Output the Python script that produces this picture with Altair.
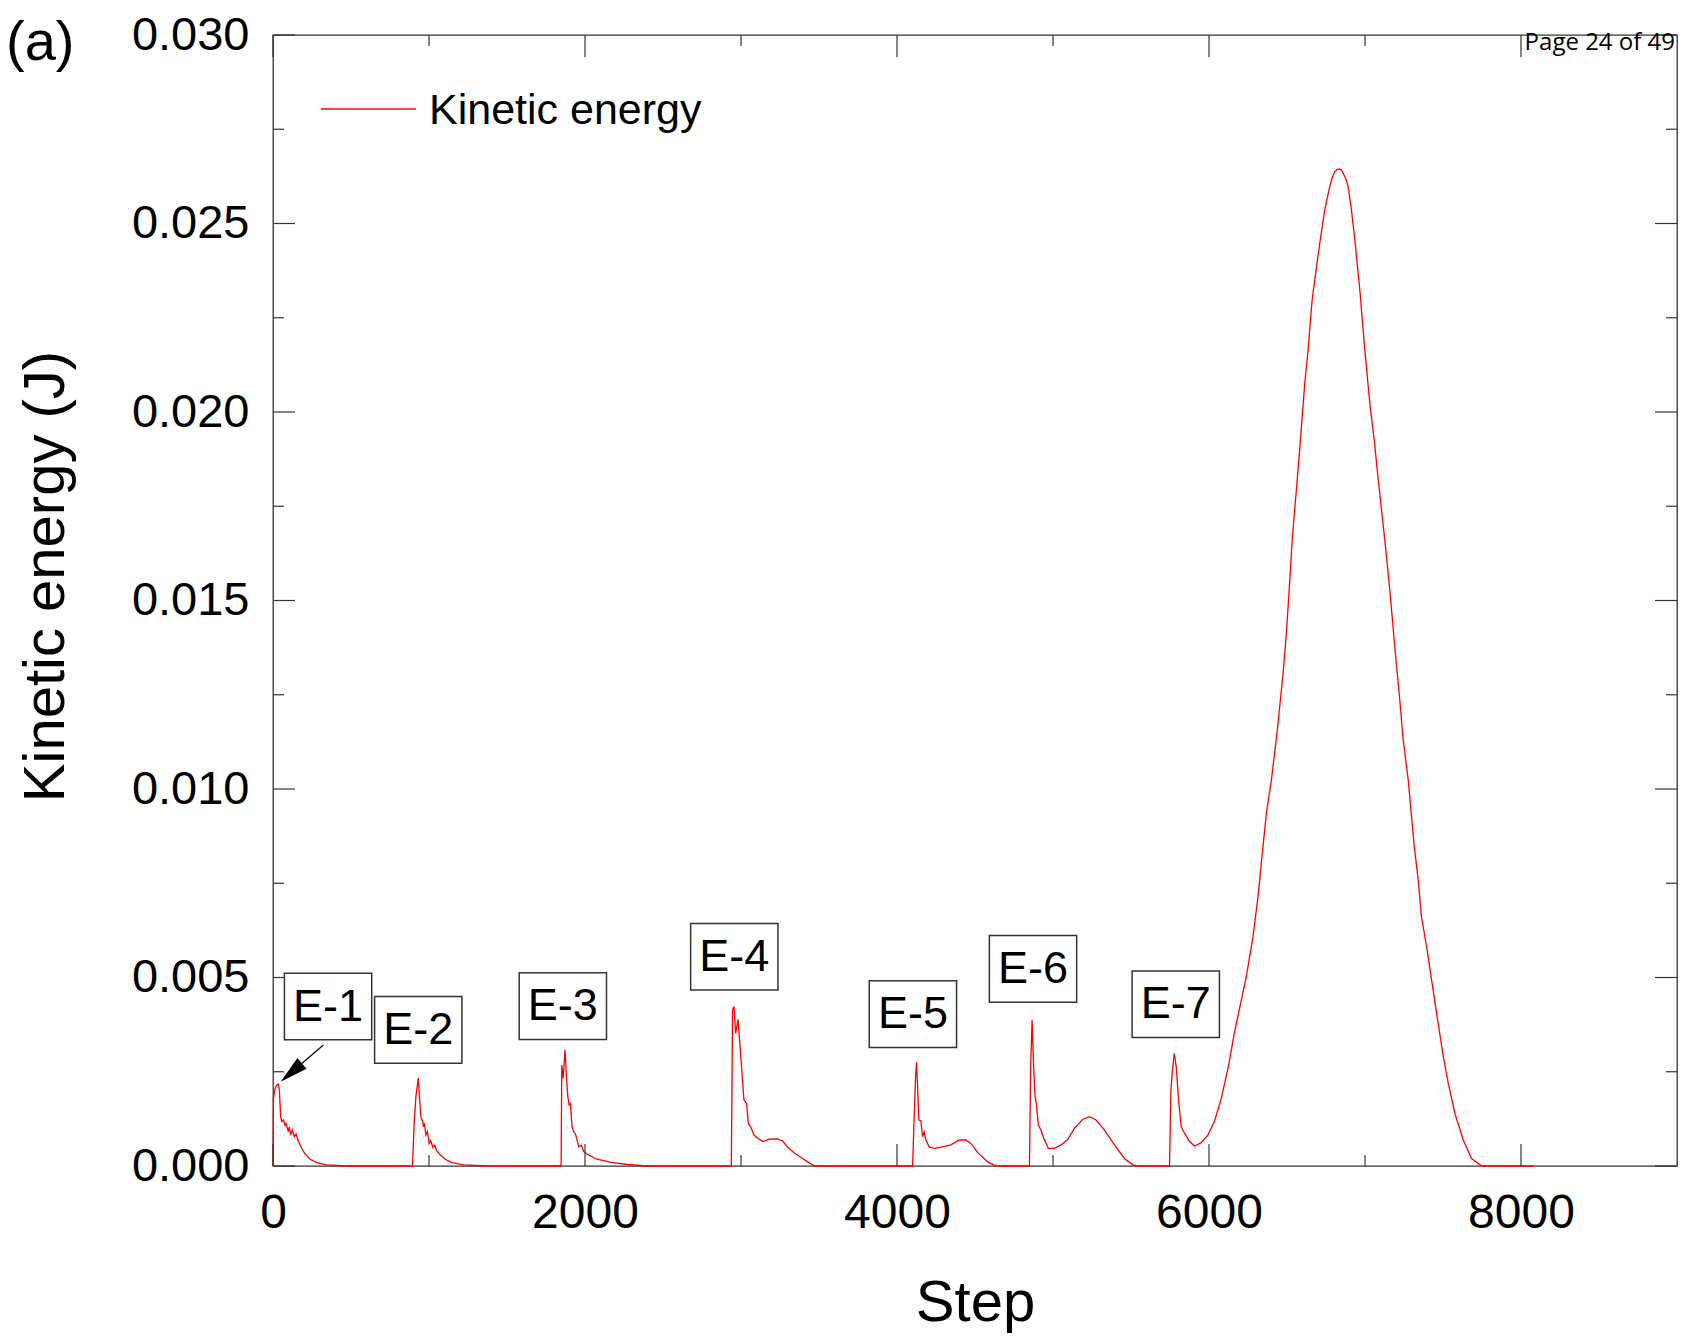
import altair as alt
import pandas as pd

# ---------------- data ----------------
e1_step = [0, 3, 13, 24, 34, 41, 49, 56, 66, 77, 83, 98, 105, 113, 124, 137, 148, 163, 184, 205, 238, 280, 344, 473]
e1_ke = [0.0, 0.0018, 0.00205, 0.00215, 0.00217, 0.0020, 0.00131, 0.00118, 0.00122, 0.00109, 0.00113, 0.00091,
         0.00104, 0.00082, 0.00096, 0.00078, 0.00085, 0.00065, 0.00047, 0.00032, 0.00018, 0.00009, 0.00003, 0.0]

e2_step = [894, 905, 916, 931, 939, 948, 959, 965, 971, 980, 990, 1001, 1011, 1025, 1037, 1050, 1072, 1104, 1147, 1222, 1372]
e2_ke = [0.0, 0.00113, 0.00184, 0.00233, 0.00184, 0.00131, 0.00118, 0.00104, 0.00113, 0.00082, 0.00091, 0.00060,
         0.00067, 0.00049, 0.00055, 0.00040, 0.00029, 0.00018, 0.00009, 0.00003, 0.0]

e3_step = [1847, 1851, 1860, 1872, 1881, 1890, 1898, 1907, 1917, 1928, 1939, 1960, 1977, 1992, 2024, 2078, 2163, 2270, 2398]
e3_ke = [0.0, 0.00268, 0.00233, 0.00308, 0.00237, 0.00184, 0.00162, 0.00166, 0.00104, 0.00091, 0.00085, 0.00051,
         0.00055, 0.00038, 0.00029, 0.00018, 0.00010, 0.00004, 0.0]

e4_step = [2938, 2946, 2955, 2966, 2981, 2991, 3002, 3019, 3036, 3047, 3062, 3083, 3109, 3143, 3180, 3233, 3265,
           3297, 3340, 3383, 3426, 3468, 3511]
e4_ke = [0.0, 0.00414, 0.00423, 0.00352, 0.00389, 0.00334, 0.00272, 0.00175, 0.00166, 0.00113, 0.00104, 0.00082,
         0.00073, 0.00065, 0.00071, 0.00072, 0.00067, 0.00051, 0.00035, 0.00023, 0.00011, 0.00001, 0.0]

e5_step = [4100, 4110, 4119, 4125, 4132, 4140, 4153, 4164, 4174, 4185, 4207, 4239, 4292, 4346, 4399, 4442, 4474,
           4517, 4581, 4635]
e5_ke = [0.0, 0.00131, 0.00237, 0.00275, 0.0021, 0.00122, 0.0012, 0.00078, 0.00091, 0.00069, 0.00050, 0.00047,
         0.00051, 0.00056, 0.00069, 0.00069, 0.00060, 0.00036, 0.00011, 0.0]

e6_step = [4849, 4857, 4866, 4874, 4885, 4893, 4906, 4923, 4945, 4970, 5009, 5052, 5095, 5137, 5191, 5234, 5276,
           5330, 5394, 5458, 5512, 5544]
e6_ke = [0.0, 0.00263, 0.00387, 0.00281, 0.00184, 0.00166, 0.00109, 0.00095, 0.00069, 0.00047, 0.00047, 0.00056,
         0.00071, 0.00100, 0.00124, 0.00131, 0.00122, 0.00095, 0.00056, 0.00020, 0.00003, 0.0]

e7_step = [5747, 5756, 5764, 5777, 5790, 5805, 5822, 5843, 5876, 5908, 5950, 5993, 6036, 6079, 6122, 6164,
           6239, 6282, 6314, 6346, 6368, 6400, 6438, 6475, 6496, 6518, 6533, 6560, 6586, 6614, 6635, 6661,
           6689, 6716, 6742, 6774, 6790, 6806, 6820, 6834, 6848, 6860, 6876, 6892, 6913, 6935, 6967, 6999,
           7031, 7059, 7085, 7127, 7159, 7191, 7223, 7245, 7277, 7316, 7341, 7362, 7395, 7427, 7459, 7502,
           7534, 7576, 7630, 7683, 7748, 8080]
e7_ke = [0.0, 0.00202, 0.00246, 0.00299, 0.00263, 0.00175, 0.00104, 0.00087, 0.00065, 0.00053, 0.00062, 0.00082,
         0.00120, 0.00180, 0.00259, 0.00356,
         0.00502, 0.00608, 0.00714, 0.00847, 0.00936, 0.01024, 0.01156, 0.01307, 0.01413, 0.01554, 0.0166,
         0.01793, 0.01926, 0.02076, 0.02164, 0.02297, 0.02385, 0.02465, 0.02536, 0.02598, 0.02622, 0.02637,
         0.02643, 0.02645, 0.02642, 0.02633, 0.02620, 0.02598, 0.02536, 0.02456, 0.02323, 0.02164, 0.02023,
         0.01926, 0.0182, 0.0166, 0.01528, 0.01377, 0.01236, 0.0113, 0.01024, 0.00847, 0.00759, 0.00661,
         0.00582, 0.00493, 0.00405, 0.0029, 0.00219, 0.0014, 0.00069, 0.0002, 0.0, 0.0]

x_major = [0, 2000, 4000, 6000, 8000]
x_minor = [1000, 3000, 5000, 7000]
y_major = [0.0, 0.005, 0.010, 0.015, 0.020, 0.025, 0.030]
y_minor = [0.0025, 0.0075, 0.0125, 0.0175, 0.0225, 0.0275]

event_labels = ["E-1", "E-2", "E-3", "E-4", "E-5", "E-6", "E-7"]
event_label_step = [353, 931, 1858, 2957, 4102, 4872, 5787]
event_label_ke = [0.00423, 0.00361, 0.00424, 0.00555, 0.00403, 0.00523, 0.00429]

arrow_tail = [323, 0.00321]
arrow_head = [117.5, 0.00248]

legend_label = ["Kinetic energy"]
panel_label = ["(a)"]
page_label = ["Page 24 of 49"]

# ---------------- chart ----------------
W, H = 1404, 1131
FONT = "Liberation Sans"
FRAME = "#333333"

step = e1_step + e2_step + e3_step + e4_step + e5_step + e6_step + e7_step
ke = e1_ke + e2_ke + e3_ke + e4_ke + e5_ke + e6_ke + e7_ke
df = pd.DataFrame({"step": step, "ke": ke})

xs = alt.Scale(domain=[0, 9000], nice=False, zero=False)
ys = alt.Scale(domain=[0, 0.03], nice=False, zero=False)

x_axis = alt.Axis(values=x_major, format="d", ticks=False, tickSize=0, domain=False, grid=False,
                  labelFont=FONT, labelFontSize=48, labelColor="black", labelPadding=23, labelFlush=False,
                  title="Step", titleFont=FONT, titleFontSize=58, titleFontWeight="normal", titleColor="black",
                  titleX=W / 2, titleY=154, titleAlign="center", titleBaseline="alphabetic")
y_axis = alt.Axis(values=y_major, format=".3f", ticks=False, tickSize=0, domain=False, grid=False,
                  labelFont=FONT, labelFontSize=47, labelColor="black", labelPadding=24, labelFlush=False,
                  title="Kinetic energy (J)", titleFont=FONT, titleFontSize=58, titleFontWeight="normal",
                  titleColor="black", titleAngle=270, titleX=-210, titleY=541, titleAlign="center",
                  titleBaseline="alphabetic")

line = alt.Chart(df).mark_line(color="#ff0000", strokeWidth=1.3).encode(
    x=alt.X("step:Q", scale=xs, axis=x_axis),
    y=alt.Y("ke:Q", scale=ys, axis=y_axis),
)

def xticks(vals, length, top):
    d = pd.DataFrame({"step": vals})
    if top:
        enc = dict(y=alt.value(0), y2=alt.value(length))
    else:
        enc = dict(y=alt.value(H), y2=alt.value(H - length))
    return alt.Chart(d).mark_rule(color=FRAME, strokeWidth=1.2).encode(
        x=alt.X("step:Q", scale=xs), **enc)

def yticks(vals, length, right):
    d = pd.DataFrame({"ke": vals})
    if right:
        enc = dict(x=alt.value(W), x2=alt.value(W - length))
    else:
        enc = dict(x=alt.value(0), x2=alt.value(length))
    return alt.Chart(d).mark_rule(color=FRAME, strokeWidth=1.2).encode(
        y=alt.Y("ke:Q", scale=ys), **enc)

ticks = [
    xticks(x_major, 22, False), xticks(x_minor, 11, False),
    xticks(x_major, 22, True), xticks(x_minor, 11, True),
    yticks(y_major, 22, False), yticks(y_minor, 11, False),
    yticks(y_major, 22, True), yticks(y_minor, 11, True),
]

lab_df = pd.DataFrame({"step": event_label_step, "ke": event_label_ke, "label": event_labels})
box_path = "M-1,-0.764L1,-0.764L1,0.764L-1,0.764Z"
boxes = alt.Chart(lab_df).mark_point(shape=box_path, size=7620, filled=True, fill="white", stroke=FRAME,
                                     strokeWidth=1.5, opacity=1).encode(
    x=alt.X("step:Q", scale=xs), y=alt.Y("ke:Q", scale=ys))
texts = alt.Chart(lab_df).mark_text(font=FONT, fontSize=45, align="center", baseline="middle",
                                    color="black").encode(
    x=alt.X("step:Q", scale=xs), y=alt.Y("ke:Q", scale=ys), text="label:N")

arrow_df = pd.DataFrame({"step": [arrow_tail[0]], "ke": [arrow_tail[1]],
                         "step2": [arrow_head[0]], "ke2": [arrow_head[1]]})
shaft = alt.Chart(arrow_df).mark_rule(color="black", strokeWidth=1.2).encode(
    x=alt.X("step:Q", scale=xs), y=alt.Y("ke:Q", scale=ys), x2="step2:Q", y2="ke2:Q")
head_df = pd.DataFrame({"step": [arrow_head[0]], "ke": [arrow_head[1]]})
head = alt.Chart(head_df).mark_point(shape="M0,-1L0.5,1L-0.5,1Z", size=784, filled=True, fill="black",
                                     strokeWidth=0, opacity=1, angle=229.3).encode(
    x=alt.X("step:Q", scale=xs), y=alt.Y("ke:Q", scale=ys))

leg_line = alt.Chart(pd.DataFrame({"t": legend_label})).mark_rule(color="#ff0000", strokeWidth=1.3).encode(
    x=alt.value(48), x2=alt.value(143), y=alt.value(74))
leg_text = alt.Chart(pd.DataFrame({"t": legend_label})).mark_text(
    font=FONT, fontSize=43, align="left", baseline="alphabetic", color="black").encode(
    x=alt.value(156), y=alt.value(89), text="t:N")

panel = alt.Chart(pd.DataFrame({"t": panel_label})).mark_text(
    font=FONT, fontSize=56, align="left", baseline="alphabetic", color="black").encode(
    x=alt.value(-267), y=alt.value(25), text="t:N")
page = alt.Chart(pd.DataFrame({"t": page_label})).mark_text(
    font="Open Sans", fontSize=24, align="right", baseline="alphabetic", color="black").encode(
    x=alt.value(W - 2), y=alt.value(15), text="t:N")

chart = alt.layer(line, *ticks, boxes, texts, shaft, head, leg_line, leg_text, panel, page).properties(
    width=W, height=H,
    autosize=alt.AutoSizeParams(type="none"),
    padding={"left": 273, "top": 35, "right": 5, "bottom": 170},
    background="white",
).configure_view(stroke=FRAME, strokeWidth=1.3)

chart.save("out.html", embed_options={"renderer": "svg", "actions": False})
